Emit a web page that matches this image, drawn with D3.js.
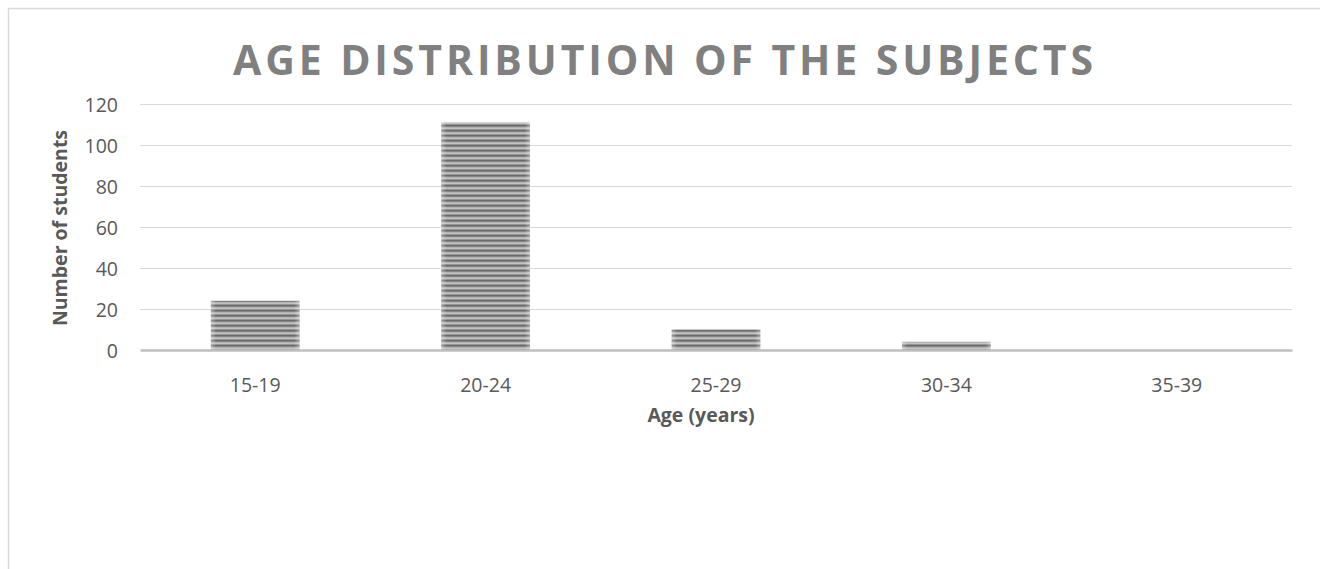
<!DOCTYPE html>
<html><head><meta charset="utf-8">
<script src="https://cdn.jsdelivr.net/npm/d3@7"></script>
<style>
html,body{margin:0;padding:0;background:#fff;}
svg{display:block;}
</style></head><body>
<svg id="c" width="1320" height="569"></svg>
<script>
const categories = ["15-19","20-24","25-29","30-34","35-39"];
const values = [24, 111, 10, 4, 0];
const yTicks = [0,20,40,60,80,100,120];
const title = "AGE DISTRIBUTION OF THE SUBJECTS";
const xTitle = "Age (years)";
const yTitle = "Number of students";

(function(){
const svg = d3.select("#c");
const font = "'Open Sans', 'Liberation Sans', sans-serif";
const textCol = "#595959";
const fs = 19.5;

svg.append("rect").attr("x",8.5).attr("y",8.5).attr("width",1330).attr("height",600)
  .attr("fill","#fff").attr("stroke","#d9d9d9").attr("stroke-width",1.5);

const pL = 140, pR = 1292, pT = 104, pB = 350;
const x = d3.scaleBand().domain(categories).range([pL,pR]).paddingInner(0.615).paddingOuter(0.3075);
const y = d3.scaleLinear().domain([0,120]).range([pB,pT]);

const defs = svg.append("defs");
const pat = defs.append("pattern").attr("id","stripes").attr("patternUnits","userSpaceOnUse")
  .attr("width",10).attr("height",5).attr("y",0);
const rows = ["#6a6a6a","#858585","#b2b2b2","#c2c2c2","#959595"];
rows.forEach((c,i)=>pat.append("rect").attr("x",0).attr("y",i).attr("width",10).attr("height",1).attr("fill",c));
const hg = defs.append("linearGradient").attr("id","edge").attr("x1",0).attr("x2",1).attr("y1",0).attr("y2",0);
hg.append("stop").attr("offset","0%").attr("stop-color","#fff").attr("stop-opacity",0.35);
hg.append("stop").attr("offset","6%").attr("stop-color","#fff").attr("stop-opacity",0);
hg.append("stop").attr("offset","94%").attr("stop-color","#fff").attr("stop-opacity",0);
hg.append("stop").attr("offset","100%").attr("stop-color","#fff").attr("stop-opacity",0.35);

svg.append("g").selectAll("line").data(yTicks.filter(d=>d>0)).join("line")
  .attr("x1",pL).attr("x2",pR).attr("y1",d=>Math.round(y(d))+0.5).attr("y2",d=>Math.round(y(d))+0.5)
  .attr("stroke","#d9d9d9").attr("stroke-width",1);

const yAxis = d3.axisLeft(y).tickValues(yTicks).tickSize(0).tickPadding(0);
const gy = svg.append("g").attr("transform",`translate(${pL-22},0)`).call(yAxis);
gy.select(".domain").remove();
gy.selectAll("text").attr("font-family",font).attr("font-size",fs).attr("fill",textCol).attr("dy","0.36em");

const bars = svg.append("g");
bars.selectAll("rect.b").data(categories).join("rect").attr("class","b")
  .attr("x",d=>x(d)).attr("width",x.bandwidth())
  .attr("y",(d,i)=>y(values[i])).attr("height",(d,i)=>pB-y(values[i]))
  .attr("fill","url(#stripes)");
bars.selectAll("rect.e").data(categories).join("rect").attr("class","e")
  .attr("x",d=>x(d)).attr("width",x.bandwidth())
  .attr("y",(d,i)=>y(values[i])).attr("height",(d,i)=>pB-y(values[i]))
  .attr("fill","url(#edge)");

const xAxis = d3.axisBottom(x).tickSize(0).tickPadding(0);
const gx = svg.append("g").attr("transform",`translate(0,${pB})`).call(xAxis);
gx.select(".domain").attr("stroke","#bfbfbf").attr("stroke-width",2.5);
gx.selectAll("text").attr("font-family",font).attr("font-size",fs).attr("fill",textCol)
  .attr("y",42).attr("dy",0);

svg.append("text").attr("x",663).attr("y",75).attr("text-anchor","middle")
  .attr("font-family",font).attr("font-weight",700).attr("font-size",41).attr("fill","#808080")
  .attr("textLength",860).attr("lengthAdjust","spacing").text(title);
svg.append("text").attr("x",701).attr("y",422).attr("text-anchor","middle")
  .attr("font-family",font).attr("font-weight",700).attr("font-size",fs).attr("fill",textCol).text(xTitle);
svg.append("text").attr("transform",`translate(67,${(pT+pB)/2+1}) rotate(-90)`).attr("text-anchor","middle")
  .attr("font-family",font).attr("font-weight",700).attr("font-size",fs).attr("fill",textCol).text(yTitle);
})();
</script>
</body></html>
